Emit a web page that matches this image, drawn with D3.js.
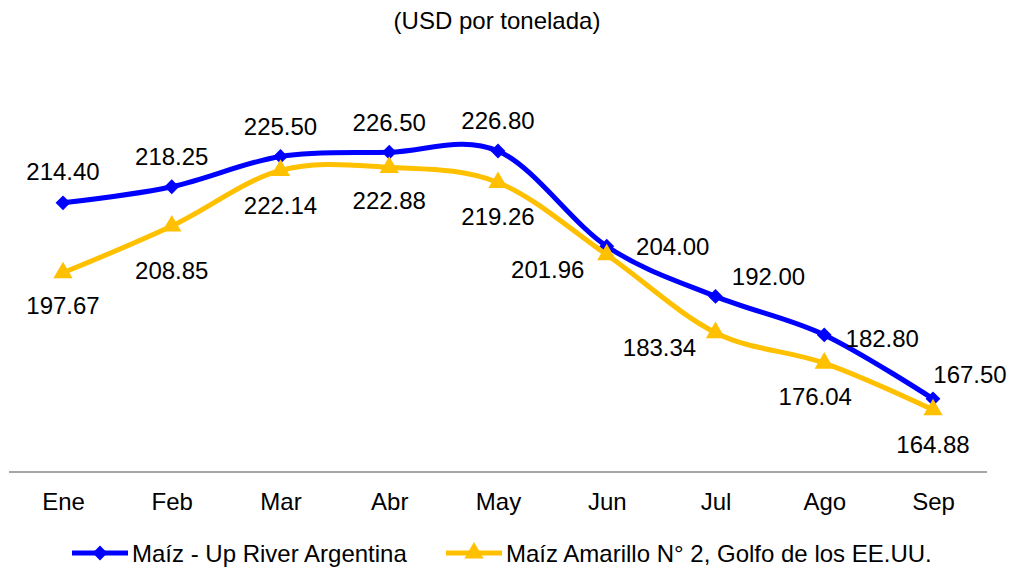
<!DOCTYPE html>
<html>
<head>
<meta charset="utf-8">
<script src="https://cdn.jsdelivr.net/npm/d3@7"></script>
<style>
  body { margin: 0; background: #fff; }
  text { font-family: "Liberation Sans", Arial, sans-serif; fill: #000; }
</style>
</head>
<body>
<div id="chart"></div>
<script>
// data
var months = ["Ene", "Feb", "Mar", "Abr", "May", "Jun", "Jul", "Ago", "Sep"];
var upRiver = [214.40, 218.25, 225.50, 226.50, 226.80, 204.00, 192.00, 182.80, 167.50];
var golfo = [197.67, 208.85, 222.14, 222.88, 219.26, 201.96, 183.34, 176.04, 164.88];
var seriesNames = ["Maíz - Up River Argentina", "Maíz Amarillo N° 2, Golfo de los EE.UU."];

// label placement (offset from point to label centre)
var upRiverOffsets = [[0, -31], [0, -30], [0, -30], [0, -30], [0, -31], [66, 0], [53, -20], [58, 3], [37, -24]];
var golfoOffsets = [[0, 33], [0, 44], [0, 35], [0, 33], [0, 34], [-59, 15], [-56, 15], [-9, 33], [0, 35]];

var width = 1011, height = 567;

var svg = d3.select("#chart")
  .append("svg")
    .attr("width", width)
    .attr("height", height);

var x = d3.scalePoint()
  .domain(months)
  .range([63, 933]);

var y = d3.scaleLinear()
  .domain([150, 250])
  .range([472, 54]);

// title
svg.append("text")
  .attr("x", 497)
  .attr("y", 20)
  .attr("dy", "0.36em")
  .attr("text-anchor", "middle")
  .attr("font-size", "24px")
  .text("(USD por tonelada)");

// x axis line
svg.append("line")
  .attr("x1", 9)
  .attr("x2", 987)
  .attr("y1", y(150))
  .attr("y2", y(150))
  .attr("stroke", "#a6a6a6")
  .attr("stroke-width", 2);

var xAxis = svg.append("g")
  .attr("transform", "translate(0," + y(150) + ")")
  .call(d3.axisBottom(x).tickSize(0).tickPadding(21));
xAxis.select(".domain").remove();
xAxis.selectAll("text")
  .attr("font-size", "24px")
  .attr("font-family", "Liberation Sans, Arial, sans-serif")
  .attr("fill", "#000");

var line = d3.line()
  .x(function(d, i) { return x(months[i]); })
  .y(function(d) { return y(d); })
  .curve(d3.curveCardinal.tension(0));

var series = [
  { values: upRiver, color: "#0000ff", symbol: d3.symbolDiamond2, size: 140, offsets: upRiverOffsets },
  { values: golfo, color: "#ffc000", symbol: d3.symbolTriangle, size: 160, offsets: golfoOffsets }
];

series.forEach(function(s) {
  svg.append("path")
    .datum(s.values)
    .attr("fill", "none")
    .attr("stroke", s.color)
    .attr("stroke-width", 5)
    .attr("d", line);

  svg.selectAll(null)
    .data(s.values)
    .enter()
    .append("path")
      .attr("transform", function(d, i) { return "translate(" + x(months[i]) + "," + y(d) + ")"; })
      .attr("d", d3.symbol().type(s.symbol).size(s.size))
      .attr("fill", s.color);

  svg.selectAll(null)
    .data(s.values)
    .enter()
    .append("text")
      .attr("x", function(d, i) { return x(months[i]) + s.offsets[i][0]; })
      .attr("y", function(d, i) { return y(d) + s.offsets[i][1]; })
      .attr("dy", "0.36em")
      .attr("text-anchor", "middle")
      .attr("font-size", "24px")
      .text(function(d) { return d.toFixed(2); });
});

// legend
var legendX = [72, 446];
series.forEach(function(s, i) {
  var g = svg.append("g").attr("transform", "translate(" + legendX[i] + ",553)");
  g.append("line")
    .attr("x1", 0).attr("x2", 56)
    .attr("stroke", s.color)
    .attr("stroke-width", 5);
  g.append("path")
    .attr("transform", "translate(28,0)")
    .attr("d", d3.symbol().type(s.symbol).size(s.size))
    .attr("fill", s.color);
  g.append("text")
    .attr("x", 60)
    .attr("dy", "0.36em")
    .attr("font-size", "24px")
    .text(seriesNames[i]);
});
</script>
</body>
</html>
